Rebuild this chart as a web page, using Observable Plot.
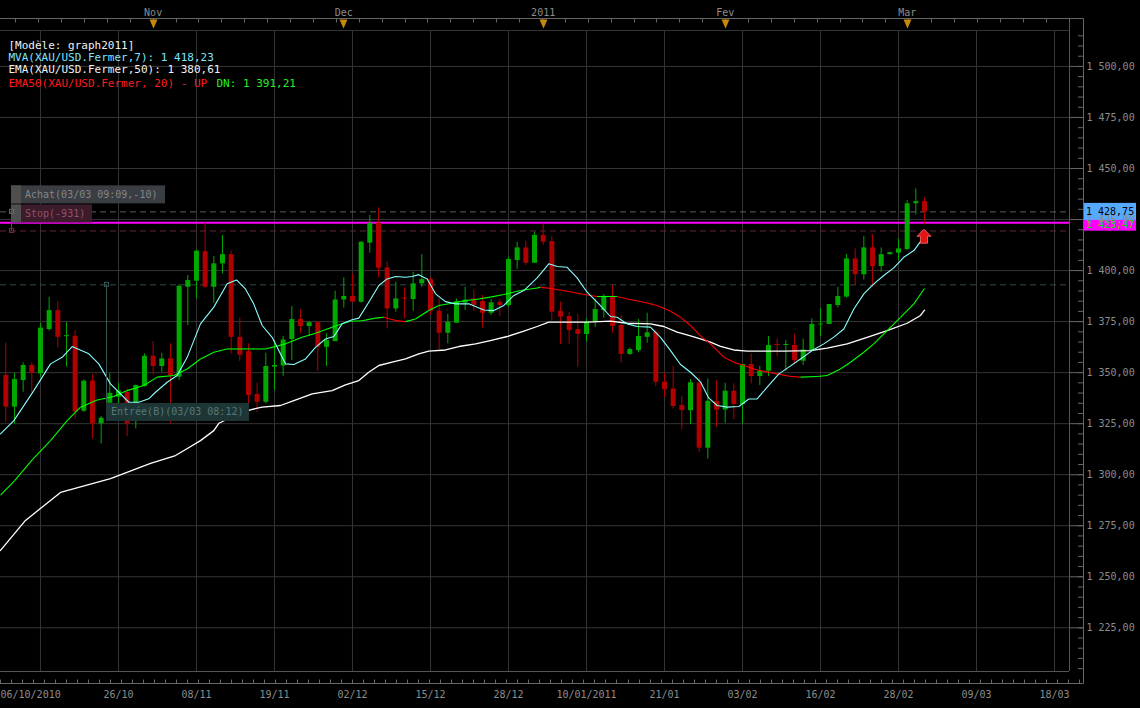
<!DOCTYPE html>
<html>
<head>
<meta charset="utf-8">
<script src="https://cdn.jsdelivr.net/npm/d3@7"></script>
<script src="https://cdn.jsdelivr.net/npm/@observablehq/plot@0.6"></script>
<style>
  html, body { margin: 0; padding: 0; background: #000; }
  #chart svg { display: block; }
</style>
</head>
<body>
<div id="chart"></div>
<script>
const FONT = "'DejaVu Sans Mono', 'Liberation Mono', monospace";

// ---- Candles (index 0 = first visible session, Oct 2010) ----
const opens = [1348.6,1333.1,1346.1,1353.5,1349.4,1371.1,1380.4,1367.6,1367.8,1331.1,
 1345.8,1324.9,1335.0,1338.0,1340.4,1326.0,1343.2,1358.0,1353.0,1356.7,
 1347.8,1391.8,1394.8,1409.3,1391.8,1403.3,1407.8,1367.3,1360.3,1339.3,
 1335.5,1352.7,1353.2,1366.2,1376.0,1372.6,1374.5,1362.4,1365.2,1385.6,
 1387.3,1384.5,1413.4,1423.2,1401.3,1381.2,1386.5,1385.8,1393.5,1395.6,
 1380.1,1369.3,1374.2,1384.0,1386.1,1384.8,1379.1,1384.5,1382.9,1404.9,
 1411.1,1403.6,1417.2,1414.2,1380.0,1377.5,1371.1,1368.7,1375.0,1380.4,
 1387.0,1373.1,1358.9,1360.8,1367.3,1369.8,1345.3,1342.0,1333.9,1331.4,
 1345.0,1313.0,1335.8,1331.7,1340.9,1334.4,1354.0,1348.1,1350.7,1363.8,
 1363.3,1363.3,1355.6,1360.8,1373.4,1373.6,1382.9,1387.0,1405.7,1398.0,
 1411.1,1402.0,1407.8,1408.5,1410.3,1432.7,1433.8];
const highs = [1364.4,1349.7,1354.8,1354.8,1374.2,1386.9,1384.8,1374.5,1370.6,1346.5,
 1349.1,1328.5,1349.4,1345.0,1342.0,1344.0,1359.2,1365.2,1359.5,1364.1,
 1393.0,1397.6,1410.1,1423.7,1406.9,1417.2,1409.5,1376.7,1364.1,1344.8,
 1359.5,1365.7,1367.8,1382.4,1380.9,1375.0,1375.0,1369.0,1389.9,1396.4,
 1398.4,1414.0,1427.0,1430.7,1404.1,1394.3,1391.5,1399.2,1407.8,1396.4,
 1386.1,1378.5,1386.1,1391.8,1390.5,1387.8,1385.8,1385.8,1406.5,1413.9,
 1414.4,1418.8,1422.9,1416.7,1384.5,1379.6,1378.5,1376.3,1386.1,1388.2,
 1392.7,1378.0,1362.0,1376.0,1379.1,1370.9,1349.7,1353.0,1338.3,1346.6,
 1347.4,1346.9,1346.1,1344.8,1344.5,1354.0,1359.2,1353.0,1367.7,1366.5,
 1365.7,1368.7,1366.5,1376.3,1381.2,1383.4,1391.8,1407.8,1410.6,1416.7,
 1417.6,1411.1,1409.0,1415.5,1434.3,1440.0,1435.6];
const lows = [1325.7,1324.9,1340.4,1340.4,1347.8,1370.3,1362.1,1352.7,1327.3,1330.5,
 1317.5,1315.1,1330.0,1333.0,1318.7,1322.4,1342.9,1348.9,1350.2,1324.9,
 1346.1,1373.1,1386.1,1391.0,1384.0,1398.4,1359.2,1355.5,1334.7,1330.6,
 1334.7,1341.2,1348.2,1355.9,1369.0,1367.7,1350.5,1353.0,1365.2,1381.6,
 1384.5,1384.0,1408.5,1396.4,1371.4,1379.6,1376.3,1380.1,1391.8,1378.0,
 1361.3,1364.1,1374.2,1380.4,1380.0,1371.8,1378.0,1377.5,1382.0,1400.5,
 1402.5,1403.6,1412.3,1375.2,1363.8,1363.8,1352.7,1364.9,1372.2,1376.7,
 1369.3,1354.6,1358.5,1359.7,1364.4,1343.2,1337.6,1332.2,1322.1,1324.6,
 1311.0,1307.7,1323.3,1325.2,1326.9,1324.9,1344.5,1343.7,1348.1,1357.9,
 1350.7,1354.3,1353.5,1360.5,1367.7,1373.6,1381.7,1386.5,1392.7,1395.4,
 1391.8,1399.2,1407.5,1404.9,1410.0,1427.3,1422.4];
const closes = [1333.1,1346.6,1353.5,1349.7,1371.8,1380.4,1367.3,1368.1,1330.6,1345.8,
 1324.9,1327.7,1339.9,1341.0,1324.9,1343.7,1358.0,1353.0,1356.7,1348.6,
 1392.3,1395.1,1409.5,1391.8,1403.3,1407.8,1367.3,1358.5,1338.8,1335.5,
 1353.0,1353.5,1366.0,1376.0,1372.6,1374.5,1362.4,1365.7,1385.6,1387.3,
 1384.5,1413.9,1423.2,1401.2,1381.2,1386.1,1386.0,1393.5,1395.6,1380.1,
 1369.3,1374.7,1384.8,1385.5,1382.9,1379.1,1384.2,1382.9,1405.4,1411.1,
 1403.6,1417.2,1413.9,1379.6,1377.2,1370.6,1368.7,1374.7,1380.9,1387.3,
 1372.6,1358.9,1361.3,1367.7,1369.5,1345.3,1341.7,1333.4,1331.4,1345.0,
 1313.0,1336.0,1331.7,1340.9,1334.4,1354.0,1348.1,1350.7,1363.3,1363.3,
 1363.8,1355.9,1361.1,1373.6,1373.8,1383.4,1387.3,1405.7,1398.0,1411.1,
 1402.0,1407.8,1408.8,1410.6,1432.7,1433.8,1428.75];

// ---- Indicator lines [session index, value] ----
const mvaPts = [[-0.61,1320.0],[0.93,1326.5],[3.23,1341.2],[5.16,1354.3],[6.5,1357.5],[7.66,1362.8],[9.58,1359.2],[10.73,1354.3],[12.08,1344.5],[13.04,1340.4],[14.2,1335.5],[15.35,1335.5],[16.5,1337.2],[17.27,1340.4],[18.62,1345.3],[19.77,1348.6],[20.93,1357.5],[22.46,1373.9],[24.0,1382.1],[25.54,1393.5],[26.62,1395.4],[27.65,1391.0],[28.6,1383.7],[29.58,1373.1],[30.73,1367.3],[32.27,1354.3],[33.23,1354.0],[34.58,1356.7],[35.73,1362.4],[36.88,1366.5],[37.85,1367.7],[38.8,1373.9],[39.96,1375.9],[40.73,1376.7],[41.88,1384.5],[43.04,1392.7],[44.0,1395.9],[44.96,1397.1],[46.12,1396.7],[46.88,1397.1],[47.65,1398.0],[48.62,1395.9],[49.58,1388.6],[50.73,1384.8],[51.88,1383.7],[53.42,1383.7],[55.15,1380.7],[56.3,1380.4],[57.46,1382.9],[58.62,1387.8],[59.77,1390.2],[61.31,1396.4],[62.65,1403.3],[63.62,1402.0],[64.77,1401.6],[65.92,1396.4],[67.08,1389.4],[68.42,1383.7],[69.77,1377.5],[70.54,1377.1],[71.7,1373.9],[72.85,1372.6],[74.38,1372.3],[75.54,1367.3],[76.7,1360.8],[77.85,1354.0],[79.0,1350.2],[80.15,1345.5],[81.1,1337.6],[82.07,1333.9],[83.23,1333.1],[84.57,1333.4],[85.73,1337.1],[86.69,1337.1],[87.85,1342.9],[89.2,1349.4],[90.35,1352.7],[91.69,1356.7],[93.04,1360.8],[94.38,1364.1],[95.54,1367.4],[96.69,1371.4],[97.85,1381.2],[99.0,1388.6],[100.15,1393.5],[101.3,1397.6],[102.46,1401.3],[103.6,1406.5],[104.77,1409.8],[105.85,1416.0],[106.0,1418.2]];
const ema50Pts = [[-0.61,1262.9],[2.27,1277.6],[6.31,1291.3],[12.08,1298.1],[16.7,1305.5],[19.58,1309.4],[20.9,1312.7],[22.46,1316.7],[24.0,1321.6],[24.58,1325.2],[26.5,1329.0],[28.2,1331.8],[29.58,1333.1],[31.7,1333.9],[33.23,1336.3],[35.35,1339.6],[37.65,1341.2],[39.19,1344.0],[40.73,1346.1],[41.88,1350.2],[43.04,1353.5],[44.58,1355.1],[46.12,1356.7],[47.65,1359.2],[48.8,1360.5],[50.73,1361.1],[52.27,1362.8],[54.2,1364.1],[55.9,1365.7],[57.85,1367.7],[59.77,1370.3],[61.31,1372.6],[62.65,1374.7],[64.77,1374.7],[67.08,1374.7],[69.77,1375.2],[71.7,1374.2],[74.38,1373.9],[75.92,1372.6],[77.47,1369.8],[79.0,1368.0],[80.15,1366.5],[81.3,1364.9],[82.46,1362.9],[84.0,1361.1],[85.54,1360.5],[89.77,1360.5],[92.85,1360.8],[94.77,1362.0],[97.08,1364.1],[99.38,1367.3],[101.69,1370.6],[104.0,1374.2],[105.54,1378.0],[106.0,1380.6]];
const ema20Pts = [[-0.61,1290.0],[1.0,1297.0],[3.04,1307.3],[5.16,1316.7],[7.08,1326.5],[8.62,1333.1],[10.54,1336.6],[12.46,1338.3],[14.0,1341.2],[15.92,1343.7],[17.46,1347.8],[19.38,1348.6],[20.93,1351.8],[22.46,1356.7],[24.0,1360.0],[25.54,1361.6],[27.0,1361.6],[28.8,1361.6],[29.96,1361.6],[32.27,1364.1],[34.19,1367.3],[35.73,1369.3],[37.65,1372.2],[38.8,1373.9],[39.77,1375.2],[41.1,1375.4],[42.65,1376.7],[43.62,1377.1],[44.96,1375.5],[46.12,1375.0],[47.27,1376.3],[48.8,1380.4],[49.96,1382.9],[51.5,1384.0],[53.04,1385.3],[54.2,1385.8],[55.9,1387.0],[57.46,1388.3],[59.38,1390.2],[61.31,1391.5],[61.7,1391.9],[63.23,1391.0],[64.77,1389.9],[66.7,1388.3],[68.23,1387.3],[70.54,1387.3],[71.7,1386.1],[73.62,1384.5],[75.15,1382.9],[76.7,1380.1],[77.85,1377.1],[79.0,1373.1],[80.15,1368.0],[81.3,1364.1],[82.85,1357.6],[84.0,1355.1],[85.15,1353.5],[86.69,1351.3],[89.0,1349.4],[90.54,1348.1],[91.69,1347.8],[93.62,1348.1],[94.77,1348.6],[96.3,1351.8],[97.46,1355.1],[99.0,1360.0],[100.15,1364.1],[101.69,1370.6],[103.23,1377.1],[104.77,1383.7],[106.0,1391.2]];

// ---- Axes ----
const yMajor = [1225,1250,1275,1300,1325,1350,1375,1400,1425,1450,1475,1500];
const yMinor = d3.range(1205, 1520, 5);
const gridIdx = [4,13,22,31,40,49,58,67,76,85,94,103,112,121];
const xLabelIdx = [13,22,31,40,49,58,67,76,85,94,103,112,121];
const xLabels = ["26/10","08/11","19/11","02/12","15/12","28/12","10/01/2011","21/01","03/02","16/02","28/02","09/03","18/03"];
const firstLabel = "06/10/2010";
const monthIdx = [17,39,62,83,104];
const monthNames = ["Nov","Dec","2011","Fev","Mar"];
const topTicks = d3.range(1.15, 123, 2.642);
const botTicks = d3.range(-0.6, 124, 1.27);

// ---- Levels & annotations ----
const priceLine = 1428.75, magentaLine = 1423.47, stopLine = 1419.4, entryLine = 1393.0;
const entryIdx = 11.6, entryBoxV = 1334.9;
const arrowIdx = 106, arrowV = 1420;
const legend = ["[Modèle: graph2011]", "MVA(XAU/USD.Fermer,7): 1 418,23", "EMA(XAU/USD.Fermer,50): 1 380,61", "EMA50(XAU/USD.Fermer, 20) - UP", "DN: 1 391,21"];
const notes = ["Achat(03/03 09:09,-10)", "Stop(-931)", "Entrée(B)(03/03 08:12)"];

const candles = opens.map((o, i) => ({i, o, h: highs[i], l: lows[i], c: closes[i]}));
const GREEN = "#00a800", RED = "#b00000";
const col = d => d.c >= d.o ? GREEN : RED;
const emaSegs = ema20Pts.slice(1).map((p, k) => ({x1: ema20Pts[k][0], y1: ema20Pts[k][1], x2: p[0], y2: p[1]}));
const fmtPrice = v => d3.format(",.2f")(v).replace(",", " ").replace(".", ",");

function decor(index, scales, values, dims) {
  const {x, y} = scales;
  const L = dims.marginLeft, R = dims.width - dims.marginRight;
  const T = dims.marginTop, B = dims.height - dims.marginBottom;
  const g = d3.create("svg:g").attr("font-family", FONT).attr("font-size", 10).attr("text-anchor", "start");
  const ln = (x1, y1, x2, y2, stroke, w = 1, dash = null) => g.append("line")
    .attr("x1", x1).attr("y1", y1).attr("x2", x2).attr("y2", y2)
    .attr("stroke", stroke).attr("stroke-width", w).attr("stroke-dasharray", dash);
  const rc = (x0, y0, w, h, fill) => g.append("rect").attr("x", x0).attr("y", y0)
    .attr("width", w).attr("height", h).attr("fill", fill);
  const tx = (x0, y0, s, fill) => g.append("text").attr("x", x0).attr("y", y0)
    .attr("dy", "0.35em").attr("text-anchor", "start").attr("fill", fill).text(s);
  const topY = T - 11.5, botY = B + 12.5, axX = R + 14.5;
  // frame
  ln(L, T + 0.5, R, T + 0.5, "#333");
  ln(L, B + 0.5, R, B + 0.5, "#555");
  ln(R + 0.5, topY, R + 0.5, B, "#555");
  // top axis
  ln(L, topY, axX, topY, "#666");
  for (const t of topTicks) { const px = Math.round(x(t)) + 0.5; if (px < axX) ln(px, topY, px, topY + 4, "#666"); }
  for (const m of monthIdx) {
    const px = Math.round(x(m)) + 0.5;
    g.append("path").attr("d", `M${px - 4},${topY + 1}L${px + 4},${topY + 1}L${px},${topY + 10}Z`).attr("fill", "#c8890a");
  }
  // right axis line and bottom axis
  ln(axX, topY, axX, botY, "#666");
  ln(L, botY, axX, botY, "#666");
  for (const t of botTicks) { const px = Math.round(x(t)) + 0.5; if (px < axX) ln(px, botY - 4, px, botY, "#666"); }
  // order boxes
  const yA = y(priceLine), yS = y(stopLine), yE = y(entryLine);
  rc(L + 11, yA - 26, 154, 18, "#3a3d42"); rc(L + 11, yA - 26, 10, 18, "#4f4f4f");
  tx(L + 25, yA - 17, notes[0], "#80868c");
  rc(L + 11, yS - 26, 81, 18, "#3c1b2b"); rc(L + 11, yS - 26, 10, 18, "#4f4f4f");
  tx(L + 25, yS - 17, notes[1], "#93506d");
  ln(L + 11.5, yS - 8, L + 11.5, yS, "#555");
  g.append("rect").attr("x", L + 9.5).attr("y", yA - 2).attr("width", 4).attr("height", 4).attr("fill", "none").attr("stroke", "#666");
  g.append("rect").attr("x", L + 9.5).attr("y", yS - 2).attr("width", 4).attr("height", 4).attr("fill", "none").attr("stroke", "#6a2a48");
  const xe = Math.round(x(entryIdx)), ye = y(entryBoxV);
  ln(xe + 0.5, yE, xe + 0.5, ye, "#3b5858");
  g.append("rect").attr("x", xe - 1.5).attr("y", yE - 2).attr("width", 4).attr("height", 4).attr("fill", "none").attr("stroke", "#3b5858");
  rc(xe, ye, 143, 18, "#1e3536");
  tx(xe + 5, ye + 9, notes[2], "#567878");
  // arrow
  const xa = x(arrowIdx), ya = y(arrowV);
  g.append("path").attr("d", `M${xa},${ya}L${xa + 7},${ya + 7}L${xa + 3.5},${ya + 7}L${xa + 3.5},${ya + 14}L${xa - 3.5},${ya + 14}L${xa - 3.5},${ya + 7}L${xa - 7},${ya + 7}Z`)
    .attr("fill", "#e21414").attr("stroke", "#ff6a6a").attr("stroke-width", 0.8);
  // value boxes on the price axis
  const yP = y(priceLine), yM = y(magentaLine);
  rc(axX + 0.5, yM - 8.5, 52, 17, "#ff00ff");
  tx(axX + 2.5, yM + 2.5, fmtPrice(magentaLine), "#00e000");
  rc(axX + 0.5, yP - 8.5, 52, 17, "#55aaff");
  tx(axX + 2.5, yP, fmtPrice(priceLine), "#000");
  return g.node();
}

const chart = Plot.plot({
  width: 1140, height: 708,
  marginTop: 30, marginRight: 71, marginBottom: 37, marginLeft: 0,
  x: {type: "linear", domain: [-0.611, 122.73], axis: null},
  y: {domain: [1203.6, 1517.6], axis: null},
  style: {background: "#000", color: "#8c8c8c", fontFamily: FONT, fontSize: "10px"},
  marks: [
    Plot.ruleY(yMajor, {stroke: "#353535"}),
    Plot.ruleX(gridIdx, {stroke: "#353535"}),
    Plot.ruleY([entryLine], {stroke: "#2e4c4a", strokeDasharray: "6,4"}),
    Plot.ruleY([priceLine], {stroke: "#5e5e5e", strokeDasharray: "6,4"}),
    Plot.ruleY([stopLine], {stroke: "#6a2443", strokeDasharray: "6,4"}),
    Plot.ruleY([magentaLine], {stroke: "#ff00ff", strokeWidth: 2}),
    Plot.ruleX(candles, {x: "i", y1: "l", y2: "h", stroke: col, strokeWidth: 1}),
    Plot.ruleX(candles, {x: "i", y1: "o", y2: "c", stroke: col, strokeWidth: 5}),
    Plot.line(ema50Pts, {x: d => d[0], y: d => d[1], stroke: "#ffffff", strokeWidth: 1.3}),
    Plot.link(emaSegs, {x1: "x1", y1: "y1", x2: "x2", y2: "y2", stroke: d => d.y2 >= d.y1 ? "#00ff00" : "#ff0000", strokeWidth: 1.1}),
    Plot.line(mvaPts, {x: d => d[0], y: d => d[1], stroke: "#88ffff", strokeWidth: 1.1}),
    decor,
    Plot.axisY(yMajor, {anchor: "right", tickSize: 14, tickPadding: 3, tickFormat: fmtPrice, stroke: "#666", fill: "#8c8c8c", fontSize: 10, label: null}),
    Plot.axisY(yMinor, {anchor: "right", tickSize: 6, dx: 8, tickFormat: () => "", stroke: "#666", label: null}),
    Plot.text(xLabelIdx, {x: d => d, text: (d, i) => xLabels[i], frameAnchor: "bottom", dy: 26, fill: "#8c8c8c"}),
    Plot.text([firstLabel], {frameAnchor: "bottom-left", textAnchor: "start", dy: 26, text: d => d, fill: "#8c8c8c"}),
    Plot.text(monthIdx, {x: d => d, text: (d, i) => monthNames[i], frameAnchor: "top", dy: -22, fill: "#8c8c8c"}),
    Plot.text([legend[0]], {frameAnchor: "top-left", textAnchor: "start", dx: 8, dy: 11, text: d => d, fill: "#f0f0f0", fontSize: 11}),
    Plot.text([legend[1]], {frameAnchor: "top-left", textAnchor: "start", dx: 8, dy: 23, text: d => d, fill: "#7fe4ff", fontSize: 11}),
    Plot.text([legend[2]], {frameAnchor: "top-left", textAnchor: "start", dx: 8, dy: 35, text: d => d, fill: "#f0f0f0", fontSize: 11}),
    Plot.text([legend[3]], {frameAnchor: "top-left", textAnchor: "start", dx: 8, dy: 48.5, text: d => d, fill: "#ff1a1a", fontSize: 11}),
    Plot.text([legend[4]], {frameAnchor: "top-left", textAnchor: "start", dx: 216, dy: 48.5, text: d => d, fill: "#22ee22", fontSize: 11})
  ]
});
document.getElementById("chart").appendChild(chart);
</script>
</body>
</html>
